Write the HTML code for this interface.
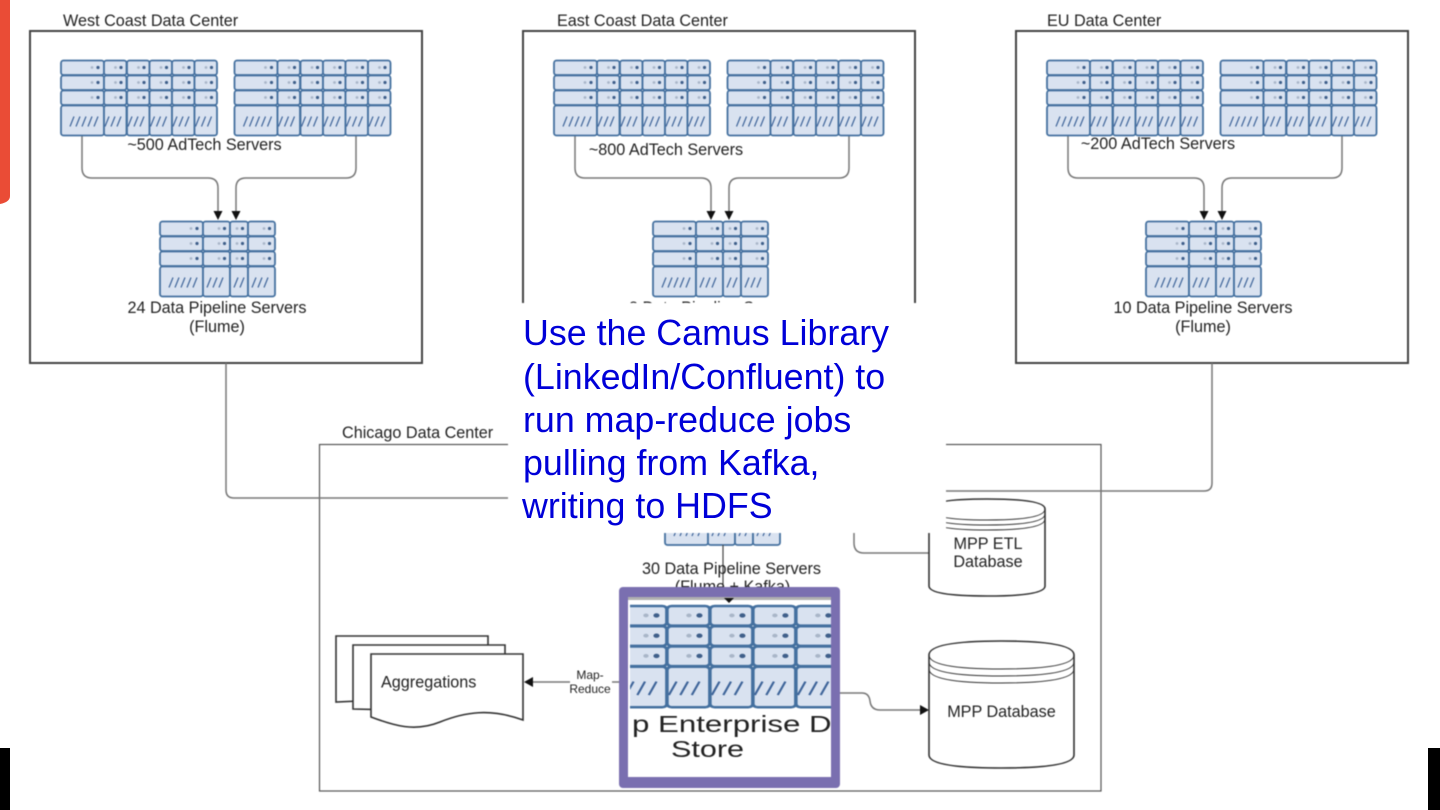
<!DOCTYPE html>
<html lang="en">
<head>
<meta charset="utf-8">
<title>Data Center Diagram</title>
<style>
html,body{margin:0;padding:0;background:#fff;width:1440px;height:810px;overflow:hidden}
svg{display:block;position:absolute;left:0;top:0}
text{font-family:"Liberation Sans",sans-serif;fill:#222}
.b{fill:#fff;stroke:#444;stroke-width:2}
.c{fill:none;stroke:#777;stroke-width:1.5}
.t{font-size:16.2px}
.m{text-anchor:middle}
.r{fill:#d9e2f0;stroke:#44709f;stroke-width:1.8}
.h{stroke:#3f659a;stroke-width:1.2;fill:none}
.o1{fill:#a9b6c8}.o2{fill:#3f5f8a}
.big{font-size:35.8px;fill:#0000d8}
.soft{filter:blur(0.4px)}
</style>
</head>
<body>
<svg width="1440" height="810" viewBox="0 0 1440 810" xmlns="http://www.w3.org/2000/svg">
<defs>
<g id="c43">
<rect class="r" x="0" y="0" width="43" height="14.5" rx="2.5"/>
<rect class="r" x="0" y="15" width="43" height="14.5" rx="2.5"/>
<rect class="r" x="0" y="30" width="43" height="14.5" rx="2.5"/>
<rect class="r" x="0" y="45" width="43" height="30" rx="2.5"/>
<circle class="o1" cx="31" cy="7" r="1.4"/><circle class="o2" cx="37" cy="7" r="1.6"/>
<circle class="o1" cx="31" cy="22" r="1.4"/><circle class="o2" cx="37" cy="22" r="1.6"/>
<circle class="o1" cx="31" cy="37" r="1.4"/><circle class="o2" cx="37" cy="37" r="1.6"/>
<path class="h" d="M9 66l4-10M15 66l4-10M21 66l4-10M27 66l4-10M33 66l4-10"/>
</g>
<g id="c23">
<rect class="r" x="0" y="0" width="22.5" height="14.5" rx="2.5"/>
<rect class="r" x="0" y="15" width="22.5" height="14.5" rx="2.5"/>
<rect class="r" x="0" y="30" width="22.5" height="14.5" rx="2.5"/>
<rect class="r" x="0" y="45" width="22.5" height="30" rx="2.5"/>
<circle class="o1" cx="11.5" cy="7" r="1.4"/><circle class="o2" cx="17" cy="7" r="1.6"/>
<circle class="o1" cx="11.5" cy="22" r="1.4"/><circle class="o2" cx="17" cy="22" r="1.6"/>
<circle class="o1" cx="11.5" cy="37" r="1.4"/><circle class="o2" cx="17" cy="37" r="1.6"/>
<path class="h" d="M1 66l4-10M7 66l4-10M13 66l4-10"/>
</g>
<g id="c18">
<rect class="r" x="0" y="0" width="18" height="14.5" rx="2.5"/>
<rect class="r" x="0" y="15" width="18" height="14.5" rx="2.5"/>
<rect class="r" x="0" y="30" width="18" height="14.5" rx="2.5"/>
<rect class="r" x="0" y="45" width="18" height="30" rx="2.5"/>
<circle class="o1" cx="7" cy="7" r="1.4"/><circle class="o2" cx="12.5" cy="7" r="1.6"/>
<circle class="o1" cx="7" cy="22" r="1.4"/><circle class="o2" cx="12.5" cy="22" r="1.6"/>
<circle class="o1" cx="7" cy="37" r="1.4"/><circle class="o2" cx="12.5" cy="37" r="1.6"/>
<path class="h" d="M4 66l4-10M10 66l4-10"/>
</g>
<g id="c27">
<rect class="r" x="0" y="0" width="27" height="14.5" rx="2.5"/>
<rect class="r" x="0" y="15" width="27" height="14.5" rx="2.5"/>
<rect class="r" x="0" y="30" width="27" height="14.5" rx="2.5"/>
<rect class="r" x="0" y="45" width="27" height="30" rx="2.5"/>
<circle class="o1" cx="16" cy="7" r="1.4"/><circle class="o2" cx="21.5" cy="7" r="1.6"/>
<circle class="o1" cx="16" cy="22" r="1.4"/><circle class="o2" cx="21.5" cy="22" r="1.6"/>
<circle class="o1" cx="16" cy="37" r="1.4"/><circle class="o2" cx="21.5" cy="37" r="1.6"/>
<path class="h" d="M4 66l4-10M10 66l4-10M16 66l4-10"/>
</g>
<g id="rack">
<use href="#c43" x="0"/><use href="#c23" x="43"/><use href="#c23" x="66"/><use href="#c23" x="88.5"/><use href="#c23" x="111"/><use href="#c23" x="133.5"/>
</g>
<g id="small">
<use href="#c43" x="0"/><use href="#c27" x="43"/><use href="#c18" x="70"/><use href="#c27" x="88"/>
</g>
<g id="flow">
<path class="c" d="M82 135V168Q82 178 92 178H208Q218 178 218 188V212"/>
<path class="c" d="M356 135V168Q356 178 346 178H246Q236 178 236 188V212"/>
<path fill="#111" d="M213.500 211h9l-4.500 9zM231.500 211h9l-4.500 9z"/>
</g>
<clipPath id="bc"><rect x="630" y="600" width="201" height="120"/></clipPath>
<clipPath id="tc"><rect x="631" y="705" width="200" height="40"/></clipPath>
</defs>

<g class="soft">
<!-- outer boxes -->
<rect class="b" x="30" y="31" width="392" height="332"/>
<rect class="b" x="523" y="31" width="392" height="332"/>
<rect class="b" x="1016" y="31" width="392" height="332"/>
<rect x="319.500" y="444.500" width="781.500" height="346.500" fill="#fff" stroke="#555" stroke-width="1.200"/>

<text class="t" x="63" y="26">West Coast Data Center</text>
<text class="t" x="557" y="26">East Coast Data Center</text>
<text class="t" x="1047" y="26">EU Data Center</text>
<text class="t" x="342" y="438">Chicago Data Center</text>

<!-- West -->
<use href="#flow"/>
<use href="#rack" x="61" y="60.500"/><use href="#rack" x="234.500" y="60.500"/>
<text class="t m" x="204.500" y="150">~500 AdTech Servers</text>
<use href="#small" x="160" y="221.500"/>
<text class="t m" x="217" y="313">24 Data Pipeline Servers</text>
<text class="t m" x="217" y="332">(Flume)</text>

<!-- East -->
<use href="#flow" x="493"/>
<use href="#rack" x="554" y="60.500"/><use href="#rack" x="727.500" y="60.500"/>
<text class="t m" x="666" y="155">~800 AdTech Servers</text>
<use href="#small" x="653" y="221.500"/>
<text class="t m" x="714" y="313">8 Data Pipeline Servers</text>

<!-- EU -->
<use href="#flow" x="986"/>
<use href="#rack" x="1047" y="60.500"/><use href="#rack" x="1220.500" y="60.500"/>
<text class="t m" x="1158" y="149">~200 AdTech Servers</text>
<use href="#small" x="1146" y="221.500"/>
<text class="t m" x="1203" y="313">10 Data Pipeline Servers</text>
<text class="t m" x="1203" y="332">(Flume)</text>

<!-- long connectors -->
<path class="c" d="M226 363V490Q226 498 234 498H530"/>
<path class="c" d="M1212 363V483Q1212 491 1204 491H930"/>

<!-- Chicago rack and label -->
<use href="#small" x="665" y="470"/>
<path d="M723 545V600" stroke="#444" stroke-width="1.200" fill="none"/>
<text class="t m" x="731.500" y="574">30 Data Pipeline Servers</text>
<text class="t m" x="732.500" y="592">(Flume + Kafka)</text>

<!-- MPP ETL -->
<path class="c" d="M854 530V543Q854 553 864 553H929"/>
<path fill="#fff" stroke="#333" stroke-width="1.600" d="M929 509Q929 499 987 499Q1045 499 1045 509V586Q1045 596 987 596Q929 596 929 586Z"/>
<path fill="none" stroke="#333" stroke-width="1" d="M929 509Q929 520 987 520Q1045 520 1045 509M929 514Q929 525 987 525Q1045 525 1045 514M929 519Q929 530 987 530Q1045 530 1045 519"/>
<text class="t m" x="988" y="549">MPP ETL</text>
<text class="t m" x="988" y="567">Database</text>

<!-- MPP DB -->
<path class="c" d="M840 693H862Q869 693 870 701Q871 710 880 710H922"/>
<path fill="#111" d="M920 705l9 5-9 5z"/>
<path fill="#fff" stroke="#333" stroke-width="1.600" d="M929 655Q929 641 1001 641Q1074 641 1074 655V755Q1074 768 1001 768Q929 768 929 755Z"/>
<path fill="none" stroke="#333" stroke-width="1" d="M929 655Q929 669 1001 669Q1074 669 1074 655M929 662Q929 676 1001 676Q1074 676 1074 662M929 669Q929 683 1001 683Q1074 683 1074 669"/>
<text class="t m" x="1001.500" y="717">MPP Database</text>

<!-- Aggregations -->
<g fill="#fff" stroke="#333" stroke-width="1.600">
<path d="M336 636H488V700H380L336 702Z"/>
<path d="M353 645H505V710H400L353 709Z"/>
<path d="M371 654H523V720C490 708 465 712 440 722C415 732 395 726 371 717Z"/>
</g>
<text class="t" x="381" y="687.500">Aggregations</text>
<path class="c" d="M570 682H532"/>
<path fill="#111" d="M524 682l9-5v10z"/>
<path class="c" d="M612 682H620"/>
<text x="590" y="679" font-size="12" text-anchor="middle">Map-</text>
<text x="590" y="693" font-size="12" text-anchor="middle">Reduce</text>

<!-- purple image frame -->
<rect x="619" y="587" width="221" height="201" rx="4" fill="#7a6fb0"/>
<rect x="628" y="597" width="203" height="180" fill="#fff"/>
<rect x="628" y="597" width="203" height="3" fill="#b0b0b0"/>
<path fill="#111" d="M724 598h10l-5 5z"/>
<g clip-path="url(#bc)">
<g transform="translate(624 606) scale(1.91 1.35)">
<use href="#c23" x="0"/><use href="#c23" x="22.500"/><use href="#c23" x="45"/><use href="#c23" x="67.500"/><use href="#c23" x="90"/>
</g>
</g>
<g clip-path="url(#tc)">
<text x="632" y="732" font-size="23" textLength="217" lengthAdjust="spacingAndGlyphs">p Enterprise Da</text>
</g>
<text x="671" y="757" font-size="23" textLength="73" lengthAdjust="spacingAndGlyphs">Store</text>

<!-- white overlay -->
<rect x="508" y="303" width="438" height="230" fill="#fff"/>
</g>

<!-- callout -->
<text class="big" x="523" y="345">Use the Camus Library</text>
<text class="big" x="523" y="389">(LinkedIn/Confluent) to</text>
<text class="big" x="523" y="432">run map-reduce jobs</text>
<text class="big" x="523" y="475">pulling from Kafka,</text>
<text class="big" x="522" y="518">writing to HDFS</text>

<!-- edge slivers -->
<path fill="#ea4c36" d="M0 0H10V196Q10 202 0 204Z"/>
<rect x="0" y="748" width="10" height="62" fill="#000"/>
<rect x="1428" y="748" width="12" height="62" fill="#000"/>
</svg>
</body>
</html>
